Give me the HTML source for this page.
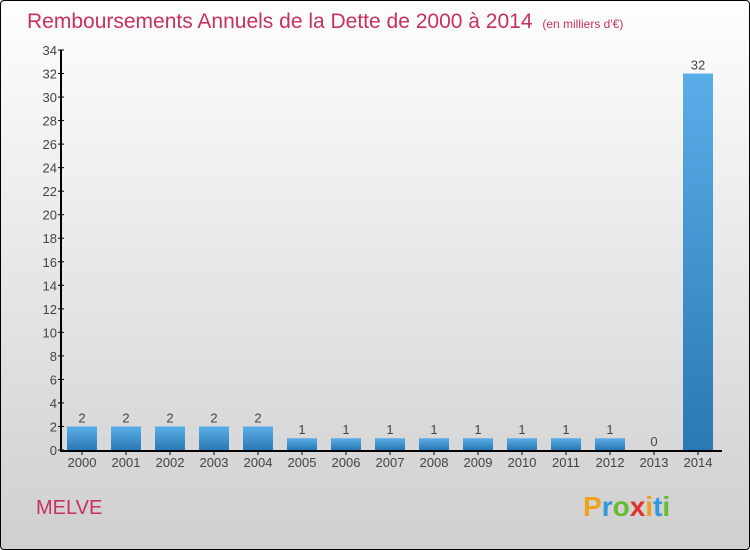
<!DOCTYPE html>
<html><head><meta charset="utf-8"><style>
body{margin:0;width:750px;height:550px;overflow:hidden;font-family:"Liberation Sans",sans-serif}
#frame{position:absolute;left:0;top:0;width:748px;height:548px;border:1px solid #000;border-radius:4px;background:linear-gradient(#fefefe,#cfcfcf)}
</style></head><body>
<div id="frame">
<svg width="750" height="550" style="position:absolute;left:-1px;top:-1px">
<defs><linearGradient id="bg" x1="0" y1="0" x2="0" y2="1"><stop offset="0" stop-color="#5aaee8"/><stop offset="1" stop-color="#2a78b4"/></linearGradient></defs>
<text x="27" y="28" font-size="21" fill="#c8305f">Remboursements Annuels de la Dette de 2000 à 2014 <tspan font-size="12" dx="4">(en milliers d'€)</tspan></text>
<g id="axes"></g><g id="bars"></g>
<text x="36" y="514" font-size="20" fill="#c8305f">MELVE</text>
<text x="583" y="516" font-size="28" font-weight="bold" fill="#3399dd"><tspan fill="#f0a020">P</tspan><tspan fill="#3399dd">r</tspan><tspan fill="#66bb33">o</tspan><tspan fill="#e03030">x</tspan><tspan fill="#f0a020">i</tspan><tspan fill="#3399dd">t</tspan><tspan fill="#66bb33">i</tspan></text>
</svg></div>
<script>
const categories=["2000","2001","2002","2003","2004","2005","2006","2007","2008","2009","2010","2011","2012","2013","2014"];
const values=[2,2,2,2,2,1,1,1,1,1,1,1,1,0,32];
const yTicks=[0,2,4,6,8,10,12,14,16,18,20,22,24,26,28,30,32,34];
const NS="http://www.w3.org/2000/svg";
const y0=450,yMax=34,ph=400,x0=82,step=44,bw=30;
const ys=v=>y0-v/yMax*ph, xs=i=>x0+i*step;
function mk(t,a,p,txt){const e=document.createElementNS(NS,t);for(const k in a)e.setAttribute(k,a[k]);if(txt!=null)e.textContent=txt;p.appendChild(e);return e;}
const ax=document.getElementById('axes'),bg=document.getElementById('bars');
let l=mk('line',{x1:61,y1:50,x2:61,y2:451,stroke:'#000','stroke-width':2},ax);


l=mk('line',{x1:60,y1:451,x2:722,y2:451,stroke:'#000','stroke-width':2},ax);


yTicks.forEach(v=>{const y=ys(v);
 mk('line',{x1:58,y1:y,x2:64,y2:y,stroke:'#000'},ax);
 const t=mk('text',{x:57,y:y+5,'text-anchor':'end','font-size':13,fill:'#444'},ax,v);
 
 });
categories.forEach((c,i)=>{const x=xs(i),v=values[i];
 if(v>0){const r=mk('rect',{x:x-bw/2,y:ys(v),width:bw,height:y0-ys(v),fill:'url(#bg)'},bg);
 
 }
 const vl=mk('text',{x:x,y:ys(v)-4,'text-anchor':'middle','font-size':13,fill:'#444'},bg,v);
 
 
 mk('line',{x1:x,y1:451,x2:x,y2:455,stroke:'#000'},ax);
 const t=mk('text',{x:x,y:467,'text-anchor':'middle','font-size':13,fill:'#444'},ax,c);
 
 });
</script>
</body></html>
